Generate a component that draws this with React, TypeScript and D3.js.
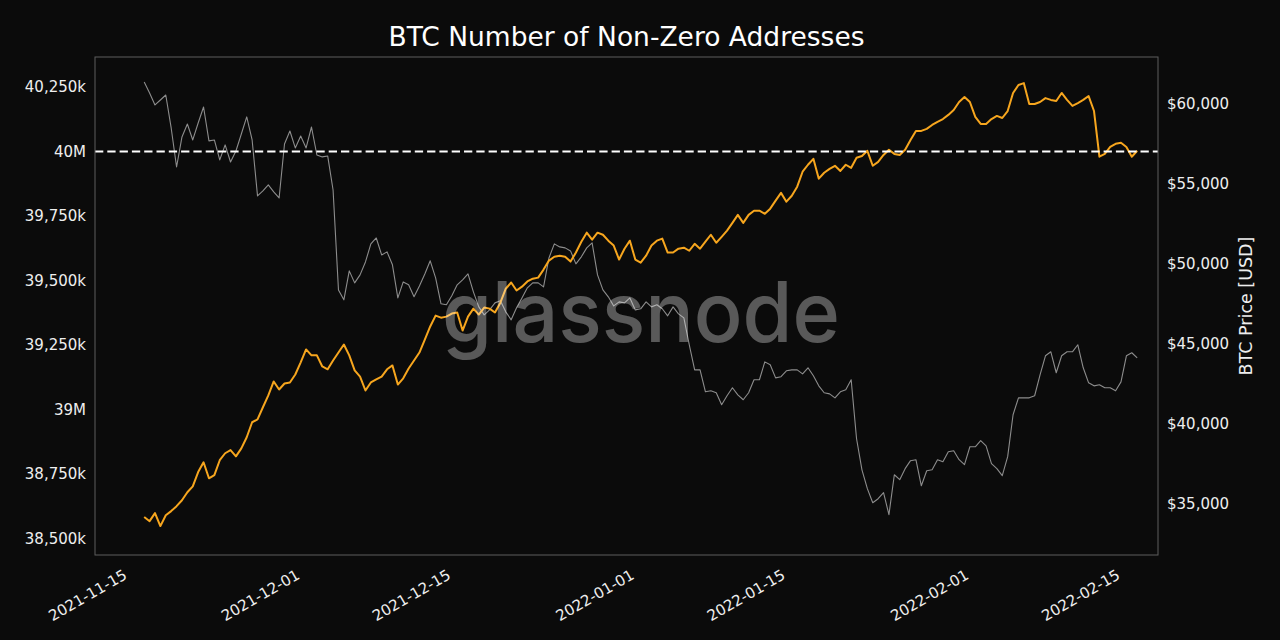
import * as d3 from 'd3';

// hourly-ish samples, one every 12h starting 2021-11-16 12:00 UTC
const START = Date.UTC(2021, 10, 16, 12);
const STEP_HOURS = 12;

// non-zero addresses, in thousands
const addresses = [
  38585, 38569, 38600, 38550, 38592, 38608, 38627, 38650, 38681, 38704,
  38759, 38797, 38735, 38747, 38805, 38832, 38844, 38820, 38851, 38894,
  38952, 38963, 39010, 39056, 39110, 39079, 39102, 39106, 39137, 39184,
  39234, 39211, 39211, 39168, 39157, 39191, 39222, 39253, 39211, 39153,
  39129, 39075, 39106, 39118, 39129, 39157, 39172, 39098, 39122, 39160,
  39191, 39222, 39272, 39323, 39365, 39357, 39361, 39373, 39377, 39307,
  39361, 39392, 39369, 39396, 39392, 39377, 39415, 39469, 39493, 39462,
  39477, 39497, 39508, 39512, 39543, 39578, 39593, 39597, 39593, 39574,
  39609, 39651, 39686, 39659, 39686, 39678, 39655, 39636, 39582, 39624,
  39655, 39582, 39570, 39597, 39636, 39655, 39663, 39609, 39609, 39624,
  39628, 39616, 39643, 39624, 39651, 39678, 39647, 39670, 39694, 39724,
  39755, 39724, 39755, 39771, 39771, 39759, 39779, 39810, 39840, 39806,
  39829, 39864, 39922, 39949, 39972, 39895, 39918, 39933, 39945, 39925,
  39949, 39937, 39976, 39983, 40003, 39945, 39960, 39987, 40007, 39991,
  39987, 40007, 40045, 40080, 40080, 40088, 40103, 40115, 40126, 40142,
  40161, 40192, 40211, 40192, 40134, 40107, 40107, 40126, 40138, 40130,
  40157, 40227, 40258, 40265, 40184, 40184, 40192, 40207, 40200, 40196,
  40227, 40200, 40177, 40188, 40200, 40215, 40157, 39980, 39991, 40018,
  40030, 40034, 40018, 39980, 40003,
];

// BTC price, USD
const btcPrice = [
  61390, 60710, 59960, 60270, 60580, 58520, 56080, 57960, 58770, 57770,
  58830, 59830, 57710, 57770, 56520, 57460, 56390, 57080, 58140, 59210,
  57770, 54270, 54580, 54960, 54520, 54140, 57520, 58330, 57270, 58020,
  57270, 58580, 56830, 56710, 56770, 54640, 48390, 47770, 49580, 48830,
  49330, 50140, 51270, 51640, 50580, 50770, 49960, 47890, 48890, 48710,
  47960, 48640, 49390, 50210, 49140, 47520, 47460, 48020, 48710, 49020,
  49390, 48270, 47330, 46830, 47140, 47580, 47710, 47020, 46520, 47270,
  47890, 48520, 48830, 48830, 48580, 50390, 51270, 51080, 51020, 50830,
  50020, 50460, 51020, 51330, 49330, 48390, 47960, 47390, 47640, 47580,
  47890, 47140, 47210, 47640, 47330, 47460, 47210, 46770, 47330, 46890,
  46640, 44960, 43390, 43390, 42020, 42080, 41960, 41210, 41770, 42270,
  41830, 41520, 41960, 42770, 42770, 43890, 43710, 42890, 42960, 43330,
  43390, 43390, 43140, 43520, 43020, 42390, 41960, 41890, 41640, 42020,
  42140, 42770, 39080, 37140, 35960, 35080, 35330, 35710, 34330, 36830,
  36520, 37210, 37710, 37770, 36140, 37080, 37140, 37770, 37640, 38270,
  38330, 37770, 37460, 38580, 38580, 38960, 38640, 37520, 37210, 36770,
  37960, 40580, 41640, 41640, 41640, 41770, 43080, 44270, 44520, 43210,
  44270, 44520, 44520, 44960, 43520, 42580, 42390, 42460, 42270, 42270,
  42080, 42640, 44270, 44460, 44140,
];

const dateTicks = ['2021-11-15', '2021-12-01', '2021-12-15', '2022-01-01', '2022-01-15', '2022-02-01', '2022-02-15'];
const addrTicks = [38500, 38750, 39000, 39250, 39500, 39750, 40000, 40250];
const priceTicks = [35000, 40000, 45000, 50000, 55000, 60000];
const threshold = 40000;

const BG = '#0b0b0b';
const ORANGE = '#f7a61e';
const GREY = '#8d8d8d';
const FONT = 'DejaVu Sans, sans-serif';

const plot = { left: 95, right: 1158, top: 57, bottom: 555 };

export default function App() {
  const times = addresses.map((_, i) => new Date(START + i * STEP_HOURS * 3600e3));

  // calibrate on the tick positions, then stretch to the frame
  const xCal = d3.scaleUtc()
    .domain([new Date('2021-11-15T00:00Z'), new Date('2022-02-15T00:00Z')])
    .range([128, 1121]);
  const x = d3.scaleUtc()
    .domain([xCal.invert(plot.left), xCal.invert(plot.right)])
    .range([plot.left, plot.right]);

  const yCal = d3.scaleLinear().domain([38500, 40250]).range([539, 87]);
  const yLeft = d3.scaleLinear()
    .domain([yCal.invert(plot.bottom), yCal.invert(plot.top)])
    .range([plot.bottom, plot.top]);

  const pCal = d3.scaleLinear().domain([35000, 60000]).range([504, 104.3]);
  const yRight = d3.scaleLinear()
    .domain([pCal.invert(plot.bottom), pCal.invert(plot.top)])
    .range([plot.bottom, plot.top]);

  const addrLine = d3.line<number>()
    .x((_, i) => x(times[i]))
    .y(d => yLeft(d));
  const priceLine = d3.line<number>()
    .x((_, i) => x(times[i]))
    .y(d => yRight(d));

  const fmtComma = d3.format(',');
  const addrLabel = (v: number) => (v % 1000 === 0 ? `${v / 1000}M` : `${fmtComma(v)}k`);
  const priceLabel = (v: number) => `$${fmtComma(v)}`;

  return (
    <svg width={1280} height={640} style={{ position: 'absolute', left: 0, top: 0 }} fontFamily={FONT}>
      <rect width={1280} height={640} fill={BG} />

      <text x={(plot.left + plot.right) / 2} y={46} textAnchor="middle" fontSize={26.5} fill="#ffffff">
        BTC Number of Non-Zero Addresses
      </text>

      <defs>
        <clipPath id="plot-clip">
          <rect x={plot.left} y={plot.top} width={plot.right - plot.left} height={plot.bottom - plot.top} />
        </clipPath>
      </defs>

      <g clipPath="url(#plot-clip)">
        <path d={priceLine(btcPrice) ?? ''} fill="none" stroke={GREY} strokeWidth={1.1} strokeLinejoin="round" />
        <path d={addrLine(addresses) ?? ''} fill="none" stroke={ORANGE} strokeWidth={2} strokeLinejoin="round" />
        <line
          x1={plot.left} x2={plot.right}
          y1={yLeft(threshold)} y2={yLeft(threshold)}
          stroke="#ffffff" strokeWidth={2} strokeDasharray="8.3,4"
        />
      </g>

      <rect
        x={plot.left} y={plot.top}
        width={plot.right - plot.left} height={plot.bottom - plot.top}
        fill="none" stroke="#5e5e5e" strokeWidth={1}
      />

      {addrTicks.map(v => (
        <text key={v} x={plot.left - 9} y={yLeft(v)} textAnchor="end" dominantBaseline="central" fontSize={15} fill="#eeeeee">
          {addrLabel(v)}
        </text>
      ))}

      {priceTicks.map(v => (
        <text key={v} x={plot.right + 9} y={yRight(v)} textAnchor="start" dominantBaseline="central" fontSize={15} fill="#eeeeee">
          {priceLabel(v)}
        </text>
      ))}

      {dateTicks.map(s => (
        <text
          key={s}
          transform={`translate(${x(new Date(s + 'T00:00Z'))},${plot.bottom + 23}) rotate(-30)`}
          textAnchor="end" fontSize={15} fill="#eeeeee"
        >
          {s}
        </text>
      ))}

      <text
        transform={`translate(1246,${(plot.top + plot.bottom) / 2}) rotate(-90)`}
        textAnchor="middle" dominantBaseline="central" fontSize={17.5} fill="#eeeeee"
      >
        BTC Price [USD]
      </text>

      <text
        x={442} y={342} fontFamily="Inter, sans-serif" fontWeight={500} fontSize={84}
        textLength={398} lengthAdjust="spacingAndGlyphs"
        fill="#ffffff" fillOpacity={0.32}
      >
        glassnode
      </text>
    </svg>
  );
}
